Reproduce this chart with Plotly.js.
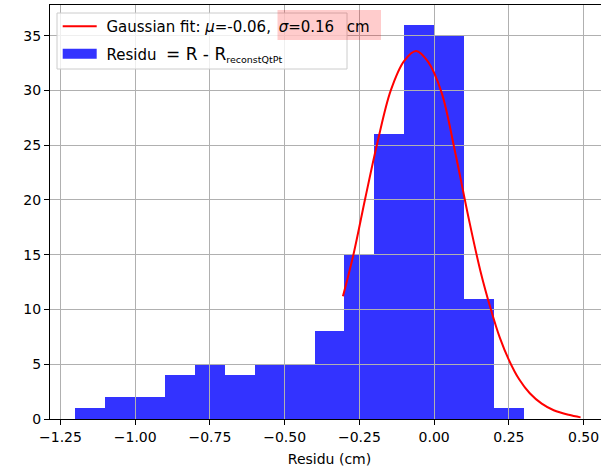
<!DOCTYPE html>
<html><head><meta charset="utf-8">
<script src="https://cdn.plot.ly/plotly-3.0.1.min.js"></script>
<style>html,body{margin:0;padding:0;overflow:hidden;background:#fff}</style>
</head><body><div id="chart" style="width:612px;height:469px"></div>
<script>
// Histogram of residuals (bin left edges, counts)
const binLeftEdges = [-1.2, -1.1, -1.0, -0.9, -0.8, -0.7, -0.6, -0.5, -0.4, -0.3, -0.2, -0.1, 0.0, 0.1, 0.2];
const binCounts = [1, 2, 2, 4, 5, 4, 5, 5, 8, 15, 26, 36, 35, 11, 1];
const binWidth = 0.1;
// Gaussian fit curve
const fitX = [-0.305, -0.27, -0.23, -0.19, -0.145, -0.10, -0.06, -0.02, 0.025, 0.07, 0.115, 0.155, 0.19, 0.22, 0.25, 0.285, 0.32, 0.36, 0.40, 0.45, 0.49];
const fitY = [11.2, 15.0, 20.2, 25.2, 30.0, 32.7, 33.6, 32.6, 29.8, 24.4, 18.4, 13.5, 10.0, 7.4, 5.4, 3.6, 2.35, 1.4, 0.8, 0.38, 0.15];
const xTickVals = [-1.25, -1.0, -0.75, -0.5, -0.25, 0.0, 0.25, 0.5];
const yTickVals = [0, 5, 10, 15, 20, 25, 30, 35];
const fitName = '\u00a0Gaussian fit: <i>μ</i>=-0.06,\u2009 <i>σ</i>=0.16\u00a0\u2009 cm';
const histName = '\u00a0Residu\u00a0 <span style="font-size:17px">= R - R</span><sub><span style="font-size:9.5px">reconstQtPt</span></sub>';
const xLabel = 'Residu (cm)';

const font = {family: 'DejaVu Sans', size: 14, color: '#000'};
const legendFont = {family: 'DejaVu Sans', size: 15, color: '#000'};
const L = 50, T = 5, W = 559, H = 414;
const px = v => (v - L) / W;
const py = v => 1 - (v - T) / H;
const barColor = 'rgba(0,0,255,0.8)';

const traces = [
  {type: 'scatter', mode: 'lines', x: fitX, y: fitY, xaxis: 'x2', yaxis: 'y2',
   line: {color: '#ff0000', width: 2, shape: 'spline', smoothing: 1}, name: fitName,
   legendgroup: 'fit', hoverinfo: 'skip'},
  {type: 'bar', x: binLeftEdges, y: binCounts, width: binWidth, offset: 0,
   marker: {color: barColor, line: {width: 0}}, name: histName, legendgroup: 'hist',
   showlegend: false, xaxis: 'x', yaxis: 'y'},
  // legend swatch for the histogram (a filled patch as in the original legend)
  {type: 'scatter', mode: 'lines', x: [null], y: [null], xaxis: 'x', yaxis: 'y',
   line: {color: barColor, width: 10}, name: histName, legendgroup: 'hist', hoverinfo: 'skip'}
];

const xr = [-1.285, 0.585], yr = [0, 37.8];
const hidden = {showgrid: false, zeroline: false, showline: false, showticklabels: false, ticks: ''};
const layout = {
  width: 612, height: 469,
  margin: {l: L, r: 612 - L - W, t: T, b: 469 - T - H},
  paper_bgcolor: '#fff', plot_bgcolor: 'rgba(0,0,0,0)',
  font: font,
  bargap: 0,
  xaxis: Object.assign({}, hidden, {range: xr, domain: [0, 1]}),
  yaxis: Object.assign({}, hidden, {range: yr, domain: [0, 1]}),
  xaxis2: {anchor: 'y2', domain: [0, 1], range: xr, tickvals: xTickVals, tickformat: '.2f',
    showgrid: true, gridcolor: '#b0b0b0', gridwidth: 1, zeroline: false,
    showline: true, linecolor: '#000', linewidth: 1, mirror: true,
    ticks: 'outside', ticklen: 5, tickwidth: 1, tickcolor: '#000',
    tickfont: font, title: {text: xLabel, font: font, standoff: 10}},
  yaxis2: {anchor: 'x2', domain: [0, 1], range: yr, tickvals: yTickVals,
    showgrid: true, gridcolor: '#b0b0b0', gridwidth: 1, zeroline: false,
    showline: true, linecolor: '#000', linewidth: 1, mirror: true,
    ticks: 'outside', ticklen: 5, tickwidth: 1, tickcolor: '#000', tickfont: font},
  showlegend: true,
  legend: {x: px(57.7), y: py(10), xanchor: 'left', yanchor: 'top',
    bgcolor: 'rgba(0,0,0,0)', borderwidth: 0, font: legendFont, itemwidth: 34,
    traceorder: 'grouped', tracegroupgap: 5},
  shapes: [
    {type: 'rect', xref: 'paper', yref: 'paper', layer: 'above',
     x0: px(57), x1: px(347), y0: py(13), y1: py(69),
     fillcolor: 'rgba(255,255,255,0.8)', line: {color: '#cccccc', width: 1}},
    {type: 'rect', xref: 'paper', yref: 'paper', layer: 'above',
     x0: px(277.5), x1: px(381), y0: py(10), y1: py(40),
     fillcolor: 'rgba(255,0,0,0.2)', line: {width: 0}}
  ]
};
Plotly.newPlot('chart', traces, layout, {displayModeBar: false, staticPlot: true});
</script></body></html>
